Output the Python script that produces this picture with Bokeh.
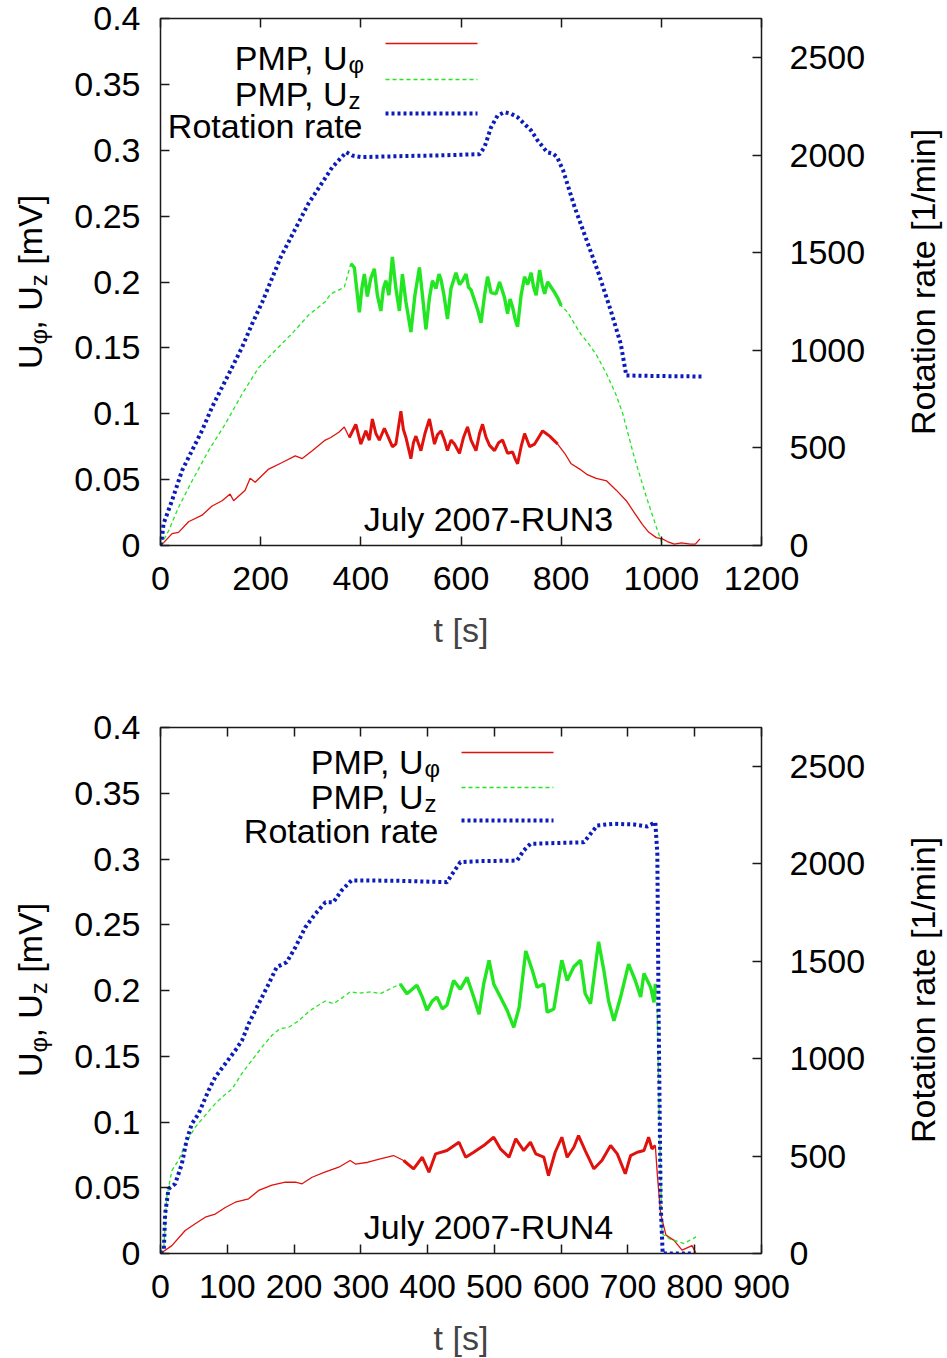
import math
from bokeh.plotting import figure
from bokeh.models import Range1d, LinearAxis, FixedTicker, CustomJSTickFormatter, Label
from bokeh.layouts import column, row
from bokeh.embed import file_html
from bokeh.resources import INLINE

# ---------------- data: July 2007 RUN3 (top) ----------------
t3_phi = [0, 6, 23, 36, 56, 83, 103, 123, 139, 146, 169, 179, 189, 216, 243, 269, 283, 303, 329, 340,
          356, 367, 377, 390, 400, 410, 417, 423, 430, 437, 447, 455, 463, 470, 480, 485, 490, 500, 505,
          510, 520, 528, 537, 547, 553, 560, 567, 573, 580, 587, 597, 605, 613, 620, 630, 637, 643, 650,
          657, 667, 675, 683, 693, 703, 708, 713, 720, 727, 737, 747, 755, 763, 770, 777, 785, 793, 807,
          820, 837, 851, 870, 891, 910, 930, 946, 962, 975, 990, 1002, 1012, 1026, 1040, 1058, 1068, 1077]
u3_phi = [0, 0.002, 0.009, 0.010, 0.018, 0.023, 0.030, 0.034, 0.039, 0.034, 0.042, 0.051, 0.048, 0.058,
          0.063, 0.068, 0.066, 0.072, 0.080, 0.082, 0.086, 0.090, 0.082, 0.092, 0.077, 0.087, 0.080, 0.096,
          0.085, 0.080, 0.089, 0.082, 0.075, 0.077, 0.102, 0.088, 0.082, 0.066, 0.078, 0.083, 0.072, 0.085,
          0.096, 0.077, 0.084, 0.087, 0.080, 0.072, 0.080, 0.077, 0.070, 0.082, 0.090, 0.080, 0.072, 0.085,
          0.092, 0.082, 0.076, 0.072, 0.078, 0.080, 0.070, 0.071, 0.066, 0.062, 0.075, 0.085, 0.075, 0.077,
          0.082, 0.087, 0.085, 0.083, 0.080, 0.077, 0.070, 0.062, 0.058, 0.054, 0.051, 0.049, 0.042, 0.034,
          0.025, 0.016, 0.010, 0.006, 0.005, 0.003, 0.001, 0.002, 0.001, 0.001, 0.005]

t3_z = [0, 6, 16, 36, 63, 96, 129, 163, 196, 229, 263, 296, 329, 340, 367, 380, 387, 397, 402, 407, 413,
        420, 427, 433, 440, 445, 450, 456, 463, 470, 477, 483, 490, 500, 508, 517, 523, 530, 537, 543, 550,
        556, 560, 566, 573, 580, 590, 597, 603, 610, 615, 620, 628, 634, 640, 647, 653, 660, 670, 677, 687,
        693, 698, 703, 708, 713, 720, 727, 733, 740, 745, 750, 757, 762, 767, 773, 780, 787, 793, 800, 813,
        827, 840, 851, 870, 891, 910, 923, 946, 970, 990, 1002]
u3_z = [0, 0.004, 0.011, 0.029, 0.049, 0.072, 0.092, 0.115, 0.135, 0.148, 0.161, 0.175, 0.185, 0.191,
        0.196, 0.214, 0.211, 0.177, 0.195, 0.206, 0.189, 0.203, 0.210, 0.190, 0.178, 0.195, 0.201, 0.190,
        0.219, 0.195, 0.178, 0.206, 0.185, 0.162, 0.190, 0.211, 0.190, 0.164, 0.188, 0.201, 0.195, 0.206,
        0.202, 0.190, 0.172, 0.195, 0.207, 0.198, 0.201, 0.206, 0.196, 0.194, 0.185, 0.178, 0.169, 0.190,
        0.204, 0.192, 0.191, 0.200, 0.188, 0.176, 0.187, 0.181, 0.172, 0.166, 0.190, 0.204, 0.198, 0.207,
        0.196, 0.190, 0.209, 0.198, 0.191, 0.200, 0.196, 0.192, 0.188, 0.182, 0.177, 0.168, 0.160, 0.155,
        0.145, 0.130, 0.114, 0.100, 0.067, 0.037, 0.014, 0.001]

t3_rot = [0, 3, 6, 23, 43, 63, 83, 103, 123, 143, 163, 183, 203, 240, 295, 343, 371, 383, 400, 450, 500,
          550, 600, 637, 647, 660, 673, 687, 700, 713, 740, 753, 772, 784, 792, 804, 827, 851, 875, 899,
          919, 930, 1000, 1081]
n3_rot = [0, 40, 111, 230, 384, 487, 589, 709, 811, 913, 1016, 1136, 1246, 1477, 1750, 1938, 2015, 1998,
          1990, 1993, 1996, 1998, 2002, 2005, 2041, 2143, 2203, 2220, 2212, 2194, 2126, 2075, 2015, 2007,
          1989, 1921, 1733, 1563, 1392, 1204, 1033, 871, 868, 866]

# ---------------- data: July 2007 RUN4 (bottom) ----------------
t4_phi = [0, 17, 37, 52, 67, 82, 97, 112, 132, 147, 167, 187, 202, 212, 227, 247, 267, 284, 292, 311, 329,
          349, 364, 379, 392, 402, 412, 429, 447, 457, 469, 484, 499, 509, 522, 532, 544, 554, 562, 574,
          581, 591, 601, 609, 619, 626, 636, 649, 661, 674, 684, 696, 704, 714, 724, 731, 736, 741, 744,
          749, 757, 769, 781, 796, 802]
u4_phi = [0, 0.006, 0.0175, 0.0226, 0.0276, 0.030, 0.035, 0.039, 0.0416, 0.048, 0.052, 0.0542, 0.0542,
          0.053, 0.058, 0.062, 0.0656, 0.0707, 0.068, 0.0694, 0.072, 0.0745, 0.0707, 0.0644, 0.0732, 0.0618,
          0.0758, 0.0783, 0.0846, 0.0732, 0.077, 0.0821, 0.0884, 0.0796, 0.0732, 0.0872, 0.0783, 0.0846,
          0.0758, 0.0732, 0.0593, 0.077, 0.0884, 0.0732, 0.0808, 0.0897, 0.0783, 0.0644, 0.0707, 0.0821,
          0.0758, 0.0606, 0.0745, 0.077, 0.0783, 0.0884, 0.0796, 0.0821, 0.060, 0.030, 0.014, 0.010, 0.0025,
          0.006, 0.0]

t4_z = [0, 5, 9.5, 17, 27, 39, 52, 67, 82, 97, 107, 122, 137, 152, 167, 179, 192, 207, 222, 237, 247, 259,
        271, 284, 297, 316, 329, 344, 359, 369, 384, 392, 399, 407, 414, 422, 429, 439, 449, 459, 469, 477,
        484, 492, 499, 509, 519, 529, 537, 547, 557, 564, 574, 579, 589, 601, 609, 619, 629, 636, 644, 656,
        664, 671, 679, 689, 701, 711, 719, 724, 734, 739, 741, 744, 747, 751, 763, 784, 802]
u4_z = [0, 0.005, 0.043, 0.063, 0.071, 0.085, 0.096, 0.105, 0.114, 0.121, 0.125, 0.137, 0.147, 0.157,
        0.166, 0.171, 0.172, 0.177, 0.184, 0.189, 0.192, 0.190, 0.194, 0.199, 0.198, 0.199, 0.1975, 0.2013,
        0.205, 0.1975, 0.204, 0.195, 0.185, 0.192, 0.195, 0.186, 0.189, 0.2076, 0.201, 0.210, 0.195, 0.182,
        0.205, 0.223, 0.205, 0.195, 0.185, 0.172, 0.187, 0.230, 0.215, 0.2025, 0.205, 0.1835, 0.186, 0.223,
        0.2076, 0.218, 0.223, 0.1975, 0.190, 0.237, 0.215, 0.192, 0.177, 0.195, 0.220, 0.2076, 0.195, 0.213,
        0.2025, 0.191, 0.205, 0.180, 0.100, 0.015, 0.011, 0.0076, 0.0126]

t4_rot = [0, 5, 7, 12, 22, 32, 39, 47, 57, 72, 82, 97, 112, 122, 132, 147, 162, 174, 189, 202, 217, 232,
          247, 259, 271, 286, 300, 356, 429, 437, 449, 479, 534, 544, 554, 634, 644, 654, 679, 709, 729,
          741, 744, 746, 749, 752, 800]
n4_rot = [0, 20, 204, 332, 358, 460, 580, 666, 717, 837, 905, 974, 1042, 1093, 1179, 1282, 1384, 1470,
          1495, 1572, 1675, 1744, 1803, 1803, 1863, 1915, 1915, 1913, 1906, 1949, 2009, 2014, 2017, 2069,
          2103, 2111, 2154, 2197, 2206, 2202, 2192, 2214, 2053, 1196, 257, 0, 0]

# ---------------- ticks / labels ----------------
x_ticks_top = [0, 200, 400, 600, 800, 1000, 1200]
x_ticks_bot = [0, 100, 200, 300, 400, 500, 600, 700, 800, 900]
u_ticks = [0, 0.05, 0.1, 0.15, 0.2, 0.25, 0.3, 0.35, 0.4]
rot_ticks = [0, 500, 1000, 1500, 2000, 2500]
legend_names = ["PMP, U", "PMP, U", "Rotation rate"]
legend_subs = ["\u03c6", "z", ""]
run_names = ["July 2007-RUN3", "July 2007-RUN4"]
x_title = "t [s]"
rot_title = "Rotation rate [1/min]"

FONT = "Liberation Sans"
FS = "34px"
RED = "#e0120e"
GREEN = "#22e622"
BLUE = "#0b1cba"
INK = "#1a1a1a"
U_MAX = 0.4
ROT_MAX = 2700
FRAME_L = 160          # page x of the plot frame's left edge
FW = 601               # frame width
LEFT_W = 60            # width of the left label strip
RIGHT_W = 56           # width of the right label strip
MAIN_BL = FRAME_L - LEFT_W
MAIN_BR = 128


def style_axis(ax, ticks, labels=True):
    ax.ticker = FixedTicker(ticks=ticks)
    ax.major_tick_in = 9
    ax.major_tick_out = 0
    ax.minor_tick_line_color = None
    ax.major_tick_line_width = 1.5
    ax.major_tick_line_color = INK
    ax.axis_line_color = None
    ax.major_label_text_font = FONT
    ax.major_label_text_color = "black"
    ax.major_label_text_font_size = FS
    if not labels:
        ax.major_label_overrides = {t: "" for t in ticks}
        ax.major_label_standoff = 0


def strip(width, fh, b_top, b_bot):
    s = figure(width=width, height=b_top + fh + b_bot, x_range=Range1d(0, width), y_range=Range1d(0, fh),
               output_backend="svg", toolbar_location=None, min_border_left=0, min_border_right=0,
               min_border_top=b_top, min_border_bottom=b_bot,
               x_axis_location=None, y_axis_location=None,
               background_fill_color="white", border_fill_color="white")
    s.outline_line_color = None
    s.grid.visible = False
    return s


def panel(t_p, u_p, t_z, u_z, t_r, n_r, xmax, xticks, win, fh, b_top, b_bot, leg, run_text):
    frame_top = b_top
    p = figure(frame_width=FW, frame_height=fh, x_range=Range1d(0, xmax), y_range=Range1d(0, U_MAX),
               output_backend="svg", toolbar_location=None,
               min_border_left=MAIN_BL, min_border_right=MAIN_BR, min_border_top=b_top, min_border_bottom=b_bot,
               background_fill_color="white", border_fill_color="white")
    p.extra_y_ranges = {"rot": Range1d(0, ROT_MAX)}
    p.grid.visible = False
    p.outline_line_color = INK
    p.outline_line_width = 1.5

    style_axis(p.xaxis[0], xticks)
    p.xaxis[0].major_label_standoff = 21
    p.xaxis[0].axis_label = x_title
    p.xaxis[0].axis_label_text_font = FONT
    p.xaxis[0].axis_label_text_font_size = FS
    p.xaxis[0].axis_label_text_font_style = "normal"
    p.xaxis[0].axis_label_standoff = 18

    style_axis(p.yaxis[0], u_ticks)
    p.yaxis[0].major_label_standoff = 20
    p.yaxis[0].formatter = CustomJSTickFormatter(code="return String(Math.round(tick*100)/100);")

    rax = LinearAxis(y_range_name="rot")
    style_axis(rax, rot_ticks)
    rax.major_label_standoff = 28
    p.add_layout(rax, "right")

    tax = LinearAxis()
    style_axis(tax, xticks, labels=False)
    p.add_layout(tax, "above")

    def X(px):
        return (px - FRAME_L) / FW * xmax

    def Y(py):
        return (frame_top + fh - py) / fh * U_MAX

    # series
    p.line(t_p, u_p, line_color=RED, line_width=1.3)
    sel = [i for i, t in enumerate(t_p) if win[0] <= t <= win[1]]
    p.line([t_p[i] for i in sel], [u_p[i] for i in sel], line_color=RED, line_width=3.0)

    p.line(t_z, u_z, line_color=GREEN, line_width=1.3, line_dash="4 3")
    sel = [i for i, t in enumerate(t_z) if win[0] <= t <= win[1]]
    p.line([t_z[i] for i in sel], [u_z[i] for i in sel], line_color=GREEN, line_width=3.4)

    p.line(t_r, n_r, y_range_name="rot", line_color=BLUE, line_width=4, line_dash="3 3")

    # legend (gnuplot style: text right-aligned, sample to the right)
    right, rows = leg
    styles = [dict(line_color=RED, line_width=1.3),
              dict(line_color=GREEN, line_width=1.3, line_dash="4 3"),
              dict(line_color=BLUE, line_width=4, line_dash="3 3")]
    for k in range(3):
        sy, base = rows[k]
        sub = legend_subs[k]
        main_right = right - 15 if sub else right
        p.add_layout(Label(x=X(main_right), y=Y(base), text=legend_names[k], text_font=FONT,
                           text_font_size=FS, text_align="right", text_baseline="alphabetic",
                           text_color="black"))
        if sub:
            p.add_layout(Label(x=X(main_right + 1), y=Y(base + 7), text=sub, text_font=FONT,
                               text_font_size="24px", text_align="left", text_baseline="alphabetic",
                               text_color="black"))
        p.line([X(right + 23), X(right + 115)], [Y(sy), Y(sy)], **styles[k])

    # run label
    p.add_layout(Label(x=X(488), y=Y(frame_top + fh - 27), text=run_text, text_font=FONT,
                       text_font_size=FS, text_align="center", text_baseline="alphabetic",
                       text_color="black"))

    center = frame_top + fh / 2

    # left strip: axis label with subscripts (reads bottom to top); y in strip = frame_top+fh-page_y
    ls = strip(LEFT_W, fh, b_top, b_bot)
    pieces = [("U", 34, 0.0, 0.722, False), ("\u03c6", 24, 0.0, 0.62, True),
              (", U", 34, 0.0, 1.278, False), ("z", 24, 0.0, 0.5, True),
              ("[mV]", 34, 0.278, 2.056, False)]
    total = sum(s * (lead + w) for _, s, lead, w, _ in pieces)
    pos = center + total / 2
    for txt, s, lead, w, is_sub in pieces:
        pos -= s * lead
        ls.add_layout(Label(x=38 if is_sub else 29, y=frame_top + fh - pos, text=txt, text_font=FONT,
                            text_font_size="%dpx" % s, angle=math.pi / 2, text_align="left",
                            text_baseline="middle", text_color="black"))
        pos -= s * w

    # right strip: rotation-rate axis label
    rs = strip(RIGHT_W, fh, b_top, b_bot)
    rs.add_layout(Label(x=33, y=fh / 2, text=rot_title, text_font=FONT,
                        text_font_size=FS, angle=math.pi / 2, text_align="center",
                        text_baseline="middle", text_color="black"))
    return row(ls, p, rs, spacing=0)


r1 = panel(t3_phi, u3_phi, t3_z, u3_z, t3_rot, n3_rot, 1200, x_ticks_top, (372, 800), 527, 18, 135,
           (362, [(43, 57), (79, 93), (113, 125)]), run_names[0])
r2 = panel(t4_phi, u4_phi, t4_z, u4_z, t4_rot, n4_rot, 900, x_ticks_bot, (355, 742), 526, 47, 105,
           (438, [(752 - 680, 761 - 680), (787 - 680, 796 - 680), (820 - 680, 830 - 680)]), run_names[1])

layout = column(r1, r2, spacing=0)
open("out.html", "w").write(file_html(layout, INLINE))
